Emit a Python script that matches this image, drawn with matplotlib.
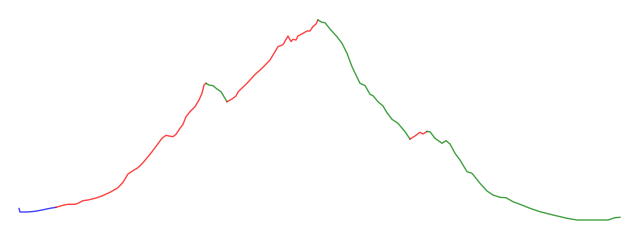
import numpy as np
import matplotlib
matplotlib.use("Agg")
import matplotlib.pyplot as plt

# readings taken off the reference line
days = [0, 1, 8, 16, 23, 31, 37, 44, 49, 56, 59, 64, 69, 76, 83, 91, 99, 104,
        109, 114, 119, 124, 129, 133, 138, 143, 147, 150, 154, 157, 161, 164,
        167, 171, 176, 180, 183, 185, 187, 190, 194, 198, 202, 205, 208, 213,
        217, 219, 222, 228, 236, 243, 251, 259, 264, 269, 272, 274, 277, 279,
        284, 288, 291, 294, 297, 299, 303, 306, 311, 318, 323, 328, 333, 336,
        341, 346, 351, 354, 359, 364, 368, 373, 379, 386, 391, 396, 401, 404,
        408, 411, 416, 423, 427, 431, 436, 441, 448, 453, 461, 468, 474, 481,
        487, 494, 501, 511, 521, 534, 548, 558, 589, 596, 601]
level = [11.5, 8, 8, 8.7, 10, 11.7, 12.7, 14.7, 15.7, 15.7, 16.7, 19.3, 20,
         21.7, 24, 27.7, 32.3, 37.7, 46, 49.3, 52.3, 57.3, 63.3, 68.3, 75,
         81.7, 84.7, 84, 83.3, 85.7, 91.7, 95.7, 103.3, 108.3, 113.3, 120,
         126.7, 135, 136.7, 135, 134.3, 131, 128.3, 123.3, 118.3, 121, 124,
         128, 131, 136.7, 145.5, 151.7, 160, 173.3, 175.3, 184, 178.5, 180.7,
         180, 184, 186.7, 189, 189, 193.5, 196, 200, 197.7, 197.3, 191, 183.3,
         176.7, 166.7, 153.3, 147, 136.7, 134.5, 125.7, 124.3, 118.3, 114,
         107.3, 100.7, 96.7, 88.3, 81, 84, 87.7, 86, 88.5, 88.3, 81.7, 76.7,
         79.3, 76, 66.7, 60, 48.3, 46.7, 36.7, 29, 25, 22.7, 22.3, 18.3, 15.7,
         11.7, 8.3, 5, 1.7, 0, 0, 2.3, 2.7]

# trend phases (start day, end day, colour)
phase_start = [0, 37, 187, 208, 299, 391, 408]
phase_end = [37, 187, 208, 299, 391, 408, 601]
phase_color = ["blue", "red", "green", "red", "green", "red", "green"]

days = np.array(days)
level = np.array(level)

fig = plt.figure(figsize=(6.4, 2.4), dpi=100)
ax = fig.add_axes([0, 0, 1, 1])

for s, e, c in zip(phase_start, phase_end, phase_color):
    m = (days >= s) & (days <= e)
    ax.plot(days[m], level[m], color=c, lw=1, alpha=0.75)

ax.set_xlim(-19, 621)
ax.set_ylim(-20, 220)
ax.axis("off")

fig.savefig("out.png", dpi=100)
